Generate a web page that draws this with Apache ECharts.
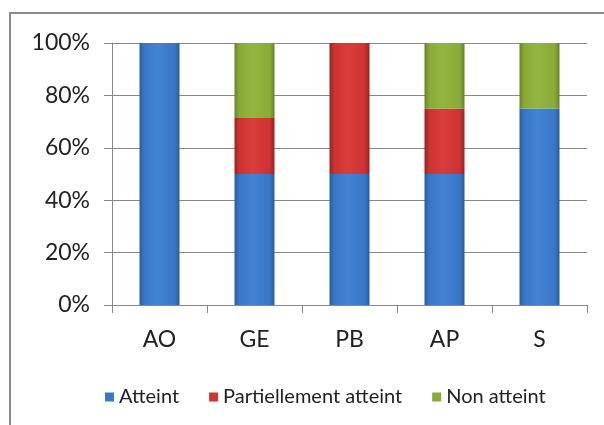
<!DOCTYPE html>
<html><head><meta charset="utf-8">
<script src="https://cdn.jsdelivr.net/npm/echarts@6/dist/echarts.min.js"></script>
<style>html,body{margin:0;padding:0;background:#fff}#c{width:604px;height:425px}</style>
</head><body><div id="c"></div>
<script>
const categories = ['AO', 'GE', 'PB', 'AP', 'S'];
const atteint = [100, 50, 50, 50, 75];
const partiellement = [0, 21.4, 50, 25, 0];
const nonAtteint = [0, 28.6, 0, 25, 25];
const yTicks = [0, 20, 40, 60, 80, 100];
const seriesNames = ['Atteint', 'Partiellement atteint', 'Non atteint'];

function grad(dark, mid, light) {
  return new echarts.graphic.LinearGradient(0, 0, 1, 0, [
    {offset: 0, color: dark}, {offset: 0.12, color: mid}, {offset: 0.45, color: light},
    {offset: 0.88, color: mid}, {offset: 1, color: dark}
  ]);
}
const colors = [
  grad('#2a5c9e', '#3977c6', '#4283d3'),
  grad('#962424', '#cc3332', '#d93d3b'),
  grad('#67822a', '#89ab37', '#92b63d')
];
const legendColors = ['#3a78c6', '#cc3333', '#88aa36'];
const F = 'Lato, "Open Sans", sans-serif';

const chart = echarts.init(document.getElementById('c'));
chart.setOption({
  animation: false,
  graphic: [{type: 'rect', shape: {x: 10, y: 13, width: 700, height: 600},
    style: {fill: 'none', stroke: '#8a8a8a', lineWidth: 2}, z: -1}],
  grid: {left: 112, right: 17, top: 43, bottom: 120},
  legend: {
    data: seriesNames.map((n, i) => ({name: n, itemStyle: {color: legendColors[i]}})),
    left: 100, top: 382, itemWidth: 9, itemHeight: 9, itemGap: 30, icon: 'rect',
    textStyle: {fontFamily: F, fontSize: 20, color: '#222'}
  },
  xAxis: {
    type: 'category', data: categories,
    axisLine: {lineStyle: {color: '#888'}},
    axisTick: {show: true, length: 8, lineStyle: {color: '#888'}},
    axisLabel: {fontFamily: F, fontSize: 23, color: '#222', margin: 23}
  },
  yAxis: {
    type: 'value', min: 0, max: 100, interval: 20,
    axisLine: {show: true, lineStyle: {color: '#888'}},
    axisTick: {show: true, length: 8, lineStyle: {color: '#888'}},
    splitLine: {lineStyle: {color: '#888'}},
    axisLabel: {fontFamily: F, fontSize: 23, color: '#222', margin: 22,
      formatter: v => yTicks.includes(v) ? v + '%' : ''}
  },
  series: [atteint, partiellement, nonAtteint].map((d, i) => ({
    name: seriesNames[i], type: 'bar', stack: 'total', barWidth: 40,
    data: d, itemStyle: {color: colors[i]}
  }))
});
</script></body></html>
